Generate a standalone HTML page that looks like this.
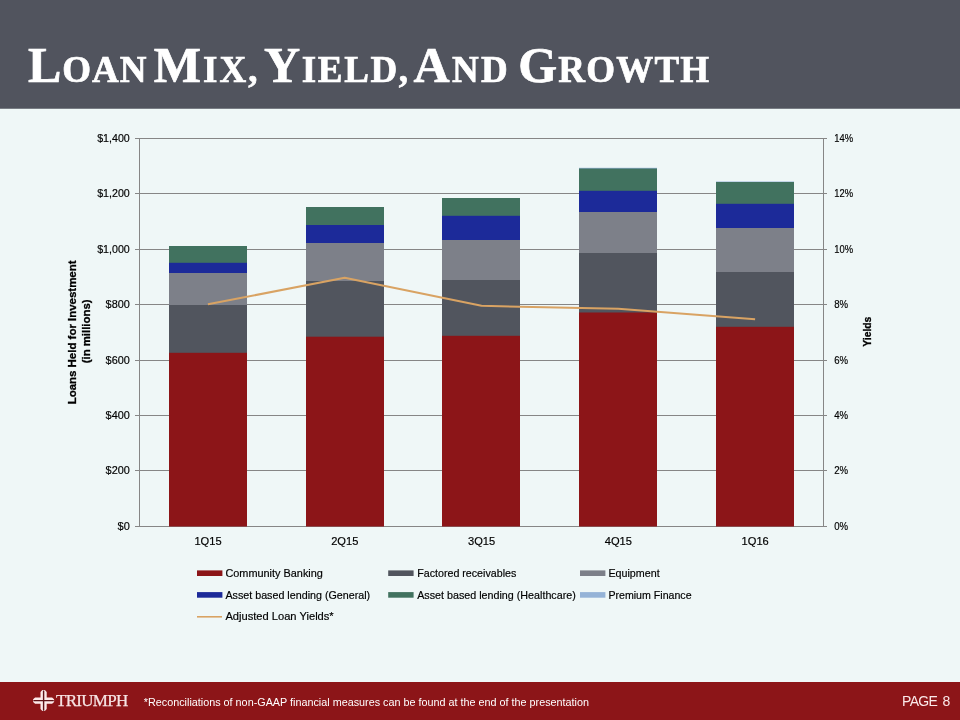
<!DOCTYPE html>
<html lang="en"><head><meta charset="utf-8"><title>Loan Mix, Yield, And Growth</title>
<style>
html,body{margin:0;padding:0;}
html{background:#eff7f7;}
body{width:960px;height:720px;position:relative;overflow:hidden;background:#eff7f7;font-family:"Liberation Sans",sans-serif;}
#hdr{position:absolute;left:0;top:0;width:960px;height:108px;background:#51545e;}
#hdr2{position:absolute;left:0;top:108px;width:960px;height:1px;background:#787d84;}
#title span{position:absolute;top:0;display:block;text-transform:uppercase;-webkit-text-stroke:0.7px #fff;}
#title{position:absolute;left:0px;top:35.4px;width:960px;height:60px;margin:0;white-space:nowrap;color:#fff;font-family:"Liberation Serif",serif;font-weight:bold;font-size:37px;line-height:60px;letter-spacing:1.2px;word-spacing:-3.45px;}
#title span::first-letter{font-size:50px;}
#ftr{position:absolute;left:0;top:682px;width:960px;height:38px;background:#8c1518;}
#brand{position:absolute;left:56px;top:690.6px;-webkit-text-stroke:0.25px #f7e4e4;color:#f7e4e4;font-family:"Liberation Serif",serif;font-size:17px;line-height:20px;letter-spacing:-0.7px;white-space:nowrap;}
#note{position:absolute;left:143.8px;top:695px;color:#fff;font-size:10.8px;line-height:14px;white-space:nowrap;}
#page{position:absolute;right:10.4px;top:691.6px;color:#fbe9e9;font-size:14px;line-height:18px;letter-spacing:-0.7px;word-spacing:2.2px;white-space:nowrap;}
svg text{stroke:#000;stroke-width:0.18px;}
svg text.ax{font-size:11.8px;}
svg text.cat{font-size:11.5px;}
svg text.lg{font-size:11.5px;}
svg text.ttl{font-size:11.5px;font-weight:bold;stroke:#000;stroke-width:0.3px;}
</style></head><body>
<div id="hdr"></div><div id="hdr2"></div>
<h1 id="title"><span style="left:28px;letter-spacing:0.95px">Loan</span> <span style="left:153.7px;letter-spacing:2.1px">Mix,</span> <span style="left:264px;letter-spacing:1.65px">Yield,</span> <span style="left:413.5px;letter-spacing:2.3px">And</span> <span style="left:518.2px;letter-spacing:1.2px">Growth</span></h1>
<svg width="960" height="720" viewBox="0 0 960 720" style="position:absolute;left:0;top:0">
<g font-family="'Liberation Sans', sans-serif" font-size="12" fill="#000">
<line x1="135" x2="827" y1="138.5" y2="138.5" stroke="#868686" stroke-width="1"/>
<line x1="135" x2="827" y1="193.5" y2="193.5" stroke="#868686" stroke-width="1"/>
<line x1="135" x2="827" y1="249.5" y2="249.5" stroke="#868686" stroke-width="1"/>
<line x1="135" x2="827" y1="304.5" y2="304.5" stroke="#868686" stroke-width="1"/>
<line x1="135" x2="827" y1="360.5" y2="360.5" stroke="#868686" stroke-width="1"/>
<line x1="135" x2="827" y1="415.5" y2="415.5" stroke="#868686" stroke-width="1"/>
<line x1="135" x2="827" y1="470.5" y2="470.5" stroke="#868686" stroke-width="1"/>
<line x1="135" x2="827" y1="526.5" y2="526.5" stroke="#868686" stroke-width="1"/>
<line x1="139.5" x2="139.5" y1="138" y2="527" stroke="#868686" stroke-width="1"/>
<line x1="823.5" x2="823.5" y1="138" y2="527" stroke="#868686" stroke-width="1"/>
<rect x="169.00" y="246.0" width="78" height="17.30" fill="#41725f"/>
<rect x="169.00" y="262.8" width="78" height="10.70" fill="#1c2a99"/>
<rect x="169.00" y="273.0" width="78" height="32.50" fill="#7d8089"/>
<rect x="169.00" y="305.0" width="78" height="48.30" fill="#51555e"/>
<rect x="169.00" y="352.8" width="78" height="173.70" fill="#8c1518"/>
<rect x="306.00" y="207.0" width="78" height="18.50" fill="#41725f"/>
<rect x="306.00" y="225.0" width="78" height="18.50" fill="#1c2a99"/>
<rect x="306.00" y="243.0" width="78" height="38.50" fill="#7d8089"/>
<rect x="306.00" y="281.0" width="78" height="56.20" fill="#51555e"/>
<rect x="306.00" y="336.7" width="78" height="189.80" fill="#8c1518"/>
<rect x="442.00" y="198.0" width="78" height="18.30" fill="#41725f"/>
<rect x="442.00" y="215.8" width="78" height="24.70" fill="#1c2a99"/>
<rect x="442.00" y="240.0" width="78" height="40.50" fill="#7d8089"/>
<rect x="442.00" y="280.0" width="78" height="56.30" fill="#51555e"/>
<rect x="442.00" y="335.8" width="78" height="190.70" fill="#8c1518"/>
<rect x="579.00" y="167.8" width="78" height="1.20" fill="#95b3d7"/>
<rect x="579.00" y="168.5" width="78" height="22.80" fill="#41725f"/>
<rect x="579.00" y="190.8" width="78" height="21.70" fill="#1c2a99"/>
<rect x="579.00" y="212.0" width="78" height="41.50" fill="#7d8089"/>
<rect x="579.00" y="253.0" width="78" height="60.00" fill="#51555e"/>
<rect x="579.00" y="312.5" width="78" height="214.00" fill="#8c1518"/>
<rect x="716.00" y="181.5" width="78" height="1.00" fill="#95b3d7"/>
<rect x="716.00" y="182.0" width="78" height="22.30" fill="#41725f"/>
<rect x="716.00" y="203.8" width="78" height="24.70" fill="#1c2a99"/>
<rect x="716.00" y="228.0" width="78" height="44.50" fill="#7d8089"/>
<rect x="716.00" y="272.0" width="78" height="55.30" fill="#51555e"/>
<rect x="716.00" y="326.8" width="78" height="199.70" fill="#8c1518"/>
<polyline points="207.90,304.3 344.70,277.8 481.50,305.8 618.30,308.8 755.10,319.3" fill="none" stroke="#d9a363" stroke-width="2" stroke-linejoin="round"/>
<text x="97.2" y="142.1" textLength="32.6" lengthAdjust="spacingAndGlyphs" class="ax">$1,400</text>
<text x="97.2" y="197.1" textLength="32.6" lengthAdjust="spacingAndGlyphs" class="ax">$1,200</text>
<text x="97.2" y="253.1" textLength="32.6" lengthAdjust="spacingAndGlyphs" class="ax">$1,000</text>
<text x="105.6" y="308.1" textLength="24.2" lengthAdjust="spacingAndGlyphs" class="ax">$800</text>
<text x="105.6" y="364.1" textLength="24.2" lengthAdjust="spacingAndGlyphs" class="ax">$600</text>
<text x="105.6" y="419.1" textLength="24.2" lengthAdjust="spacingAndGlyphs" class="ax">$400</text>
<text x="105.6" y="474.1" textLength="24.2" lengthAdjust="spacingAndGlyphs" class="ax">$200</text>
<text x="117.6" y="530.1" textLength="12.2" lengthAdjust="spacingAndGlyphs" class="ax">$0</text>
<text x="834.2" y="142.1" textLength="18.8" lengthAdjust="spacingAndGlyphs" class="ax">14%</text>
<text x="834.2" y="197.1" textLength="18.8" lengthAdjust="spacingAndGlyphs" class="ax">12%</text>
<text x="834.2" y="253.1" textLength="18.8" lengthAdjust="spacingAndGlyphs" class="ax">10%</text>
<text x="834.2" y="308.1" textLength="13.9" lengthAdjust="spacingAndGlyphs" class="ax">8%</text>
<text x="834.2" y="364.1" textLength="13.9" lengthAdjust="spacingAndGlyphs" class="ax">6%</text>
<text x="834.2" y="419.1" textLength="13.9" lengthAdjust="spacingAndGlyphs" class="ax">4%</text>
<text x="834.2" y="474.1" textLength="13.9" lengthAdjust="spacingAndGlyphs" class="ax">2%</text>
<text x="834.2" y="530.1" textLength="13.9" lengthAdjust="spacingAndGlyphs" class="ax">0%</text>
<text x="194.4" y="544.8" textLength="27.2" lengthAdjust="spacingAndGlyphs" class="cat">1Q15</text>
<text x="331.2" y="544.8" textLength="27.2" lengthAdjust="spacingAndGlyphs" class="cat">2Q15</text>
<text x="468.0" y="544.8" textLength="27.2" lengthAdjust="spacingAndGlyphs" class="cat">3Q15</text>
<text x="604.8" y="544.8" textLength="27.2" lengthAdjust="spacingAndGlyphs" class="cat">4Q15</text>
<text x="741.6" y="544.8" textLength="27.2" lengthAdjust="spacingAndGlyphs" class="cat">1Q16</text>
<text transform="translate(75.6,404.3) rotate(-90)" textLength="143.8" lengthAdjust="spacingAndGlyphs" class="ttl">Loans Held for Investment</text>
<text transform="translate(89.8,363.3) rotate(-90)" textLength="63.8" lengthAdjust="spacingAndGlyphs" class="ttl">(in millions)</text>
<text transform="translate(871.3,346.7) rotate(-90)" textLength="30" lengthAdjust="spacingAndGlyphs" class="ttl">Yields</text>
<rect x="197" y="570.4" width="25.4" height="5.6" fill="#8c1518"/>
<text x="225.4" y="577.1" textLength="97.5" lengthAdjust="spacingAndGlyphs" class="lg">Community Banking</text>
<rect x="388.2" y="570.4" width="25.4" height="5.6" fill="#51555e"/>
<text x="417.2" y="577.1" textLength="99.1" lengthAdjust="spacingAndGlyphs" class="lg">Factored receivables</text>
<rect x="580" y="570.4" width="25.4" height="5.6" fill="#7d8089"/>
<text x="608.4" y="577.1" textLength="51.3" lengthAdjust="spacingAndGlyphs" class="lg">Equipment</text>
<rect x="197" y="592.1" width="25.4" height="5.6" fill="#1c2a99"/>
<text x="225.4" y="598.8" textLength="144.8" lengthAdjust="spacingAndGlyphs" class="lg">Asset based lending (General)</text>
<rect x="388.2" y="592.1" width="25.4" height="5.6" fill="#41725f"/>
<text x="417.2" y="598.8" textLength="158.6" lengthAdjust="spacingAndGlyphs" class="lg">Asset based lending (Healthcare)</text>
<rect x="580" y="592.1" width="25.4" height="5.6" fill="#95b3d7"/>
<text x="608.4" y="598.8" textLength="83.2" lengthAdjust="spacingAndGlyphs" class="lg">Premium Finance</text>
<line x1="197" x2="222" y1="616.8" y2="616.8" stroke="#d9a363" stroke-width="1.6"/>
<text x="225.4" y="620" textLength="108.3" lengthAdjust="spacingAndGlyphs" class="lg">Adjusted Loan Yields*</text>
</g>
</svg>
<div id="ftr"></div>
<svg width="960" height="38" viewBox="0 682 960 38" style="position:absolute;left:0;top:682px">
<g id="logo">
<path d="M40.50 692.10 L42.30 690.10 L44.90 690.10 L46.70 692.10 L46.70 697.50 L52.10 697.50 L54.10 699.30 L54.10 701.90 L52.10 703.70 L46.70 703.70 L46.70 709.10 L44.90 711.10 L42.30 711.10 L40.50 709.10 L40.50 703.70 L35.10 703.70 L33.10 701.90 L33.10 699.30 L35.10 697.50 L40.50 697.50Z" fill="#fdeaea"/>
<path d="M43.6 690.4V710.8000000000001M33.4 700.6H53.800000000000004" stroke="#5e1217" stroke-width="1.4" fill="none"/>
</g>
</svg>
<div id="brand">TRIUMPH</div>
<div id="note">*Reconciliations of non-GAAP financial measures can be found at the end of the presentation</div>
<div id="page">PAGE 8</div>
</body></html>
